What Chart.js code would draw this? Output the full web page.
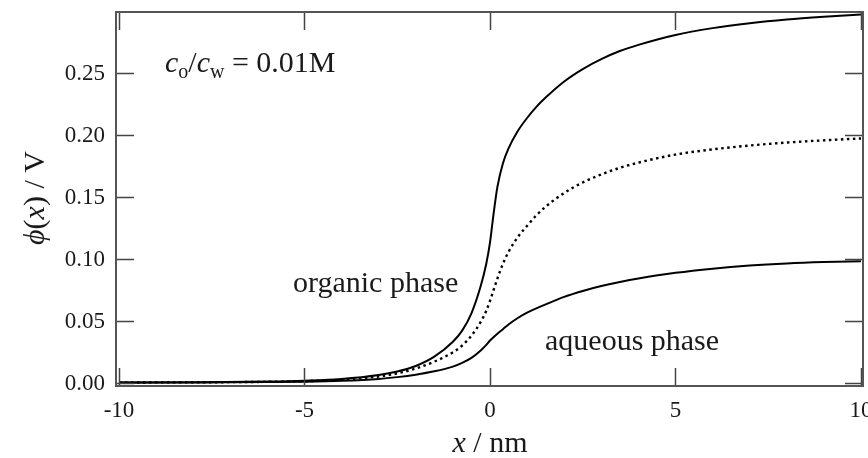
<!DOCTYPE html>
<html>
<head>
<meta charset="utf-8">
<script src="https://cdn.jsdelivr.net/npm/chart.js@4.4.1/dist/chart.umd.min.js"></script>
<style>
  html, body { margin: 0; padding: 0; background: #fff; }
  #wrap { width: 868px; height: 458px; position: relative; }
</style>
</head>
<body>
<div id="wrap"><canvas id="chart"></canvas></div>
<script>
// === DATA ===
const xNm = [-10, -8, -6, -5, -4, -3, -2.5, -2, -1.5, -1, -0.75, -0.5, -0.25, -0.1, 0,
  0.1, 0.2, 0.35, 0.5, 0.75, 1, 1.25, 1.5, 2, 2.5, 3, 3.5, 4, 5, 6, 7, 8, 9, 10];
// upper solid curve (V)
const upperCurve = [0.0002, 0.0004, 0.0009, 0.0016, 0.003, 0.0062, 0.009, 0.0135, 0.021, 0.033, 0.042, 0.056, 0.078, 0.096, 0.113,
  0.137, 0.158, 0.177, 0.189, 0.203, 0.2135, 0.2225, 0.2300, 0.2430, 0.2530, 0.2610, 0.2675, 0.2725, 0.2805, 0.2860, 0.2900, 0.2930, 0.2952, 0.2970];
// dotted curve (V)
const dottedCurve = [0.0002, 0.0003, 0.0007, 0.0012, 0.0025, 0.005, 0.0075, 0.0115, 0.017, 0.0245, 0.030, 0.038, 0.049, 0.058, 0.066,
  0.075, 0.084, 0.096, 0.1055, 0.1175, 0.1265, 0.135, 0.142, 0.153, 0.1615, 0.168, 0.1733, 0.1775, 0.1840, 0.1882, 0.1913, 0.1937, 0.1955, 0.1970];
// lower solid curve (V)
const lowerCurve = [0.0001, 0.0002, 0.0005, 0.0008, 0.0015, 0.003, 0.0045, 0.0065, 0.0092, 0.0130, 0.0160, 0.0200, 0.0260, 0.0305, 0.0340,
  0.0368, 0.0395, 0.0432, 0.0470, 0.0522, 0.0565, 0.0600, 0.0632, 0.0692, 0.0740, 0.0780, 0.0812, 0.0840, 0.0886, 0.0920, 0.0945, 0.0962, 0.0973, 0.0980];

const xTicks = [-10, -5, 0, 5, 10];
const yTicks = [0, 0.05, 0.10, 0.15, 0.20, 0.25];

const SERIF = '"Liberation Serif", "Times New Roman", serif';
const INK = "#1a1a1a";

function toPoints(ys) {
  return xNm.map((x, i) => ({ x, y: ys[i] }));
}

function curve(ys, dash, width) {
  return {
    data: toPoints(ys),
    showLine: true,
    borderColor: "#000",
    borderWidth: width || 2,
    borderDash: dash || [],
    pointRadius: 0,
    cubicInterpolationMode: "monotone",
    fill: false
  };
}

// frame, inward ticks and all text
const framePlugin = {
  id: "frame",
  afterDatasetsDraw(chart) {
    const { ctx, chartArea: a, scales: { x, y } } = chart;
    const tick = 18;
    ctx.save();

    ctx.strokeStyle = "#444";
    ctx.lineWidth = 1.5;
    xTicks.forEach(v => {
      const px = Math.round(x.getPixelForValue(v)) + 0.5;
      ctx.beginPath();
      ctx.moveTo(px, a.bottom); ctx.lineTo(px, a.bottom - tick);
      ctx.moveTo(px, a.top); ctx.lineTo(px, a.top + tick);
      ctx.stroke();
    });
    yTicks.forEach(v => {
      const py = Math.round(y.getPixelForValue(v)) + 0.5;
      ctx.beginPath();
      ctx.moveTo(a.left, py); ctx.lineTo(a.left + tick, py);
      ctx.moveTo(a.right, py); ctx.lineTo(a.right - tick, py);
      ctx.stroke();
    });

    ctx.strokeStyle = "#555";
    ctx.lineWidth = 2;
    ctx.strokeRect(a.left, a.top, a.right - a.left, a.bottom - a.top);

    // tick labels
    ctx.fillStyle = INK;
    ctx.font = `23px ${SERIF}`;
    ctx.textAlign = "right";
    ctx.textBaseline = "middle";
    yTicks.forEach(v => ctx.fillText(v.toFixed(2), a.left - 11, y.getPixelForValue(v) + 1));
    ctx.textAlign = "center";
    ctx.textBaseline = "alphabetic";
    xTicks.forEach(v => ctx.fillText(String(v), x.getPixelForValue(v), a.bottom + 31));

    // axis titles
    ctx.textAlign = "left";
    const xParts = [["x", true], [" / nm", false]];
    const partsWidth = parts => parts.reduce((w, [t, it]) => {
      ctx.font = `${it ? "italic " : ""}30px ${SERIF}`;
      return w + ctx.measureText(t).width;
    }, 0);
    const drawParts = (parts, sx, sy) => parts.forEach(([t, it]) => {
      ctx.font = `${it ? "italic " : ""}30px ${SERIF}`;
      ctx.fillText(t, sx, sy);
      sx += ctx.measureText(t).width;
    });
    drawParts(xParts, x.getPixelForValue(0) - partsWidth(xParts) / 2, 452);

    const yParts = [["\u03D5", true], ["(", false], ["x", true], [") / V", false]];
    ctx.save();
    ctx.translate(44, 198);
    ctx.rotate(-Math.PI / 2);
    drawParts(yParts, -partsWidth(yParts) / 2, 0);
    ctx.restore();

    // concentration note
    let nx = 165;
    const base = 72;
    const seg = (t, size, italic, dy) => {
      ctx.font = `${italic ? "italic " : ""}${size}px ${SERIF}`;
      ctx.fillText(t, nx, base + dy);
      nx += ctx.measureText(t).width;
    };
    seg("c", 30, true, 0);
    seg("o", 20, false, 6);
    seg("/", 30, false, 0);
    seg("c", 30, true, 0);
    seg("w", 20, false, 6);
    seg(" = 0.01M", 30, false, 0);

    // phase labels
    ctx.font = `30px ${SERIF}`;
    ctx.fillText("organic phase", 293, 292);
    ctx.fillText("aqueous phase", 545, 350);

    ctx.restore();
  }
};

new Chart(document.getElementById("chart"), {
  type: "scatter",
  data: {
    datasets: [curve(upperCurve), curve(dottedCurve, [2.5, 3.5], 2.4), curve(lowerCurve)]
  },
  options: {
    responsive: true,
    maintainAspectRatio: false,
    animation: false,
    layout: { padding: { left: 116, top: 12, right: 5, bottom: 72 } },
    plugins: { legend: { display: false }, tooltip: { enabled: false } },
    scales: {
      x: { type: "linear", min: -10.08, max: 10.054, display: false },
      y: { type: "linear", min: -0.00266, max: 0.299, display: false }
    }
  },
  plugins: [framePlugin]
});
</script>
</body>
</html>
